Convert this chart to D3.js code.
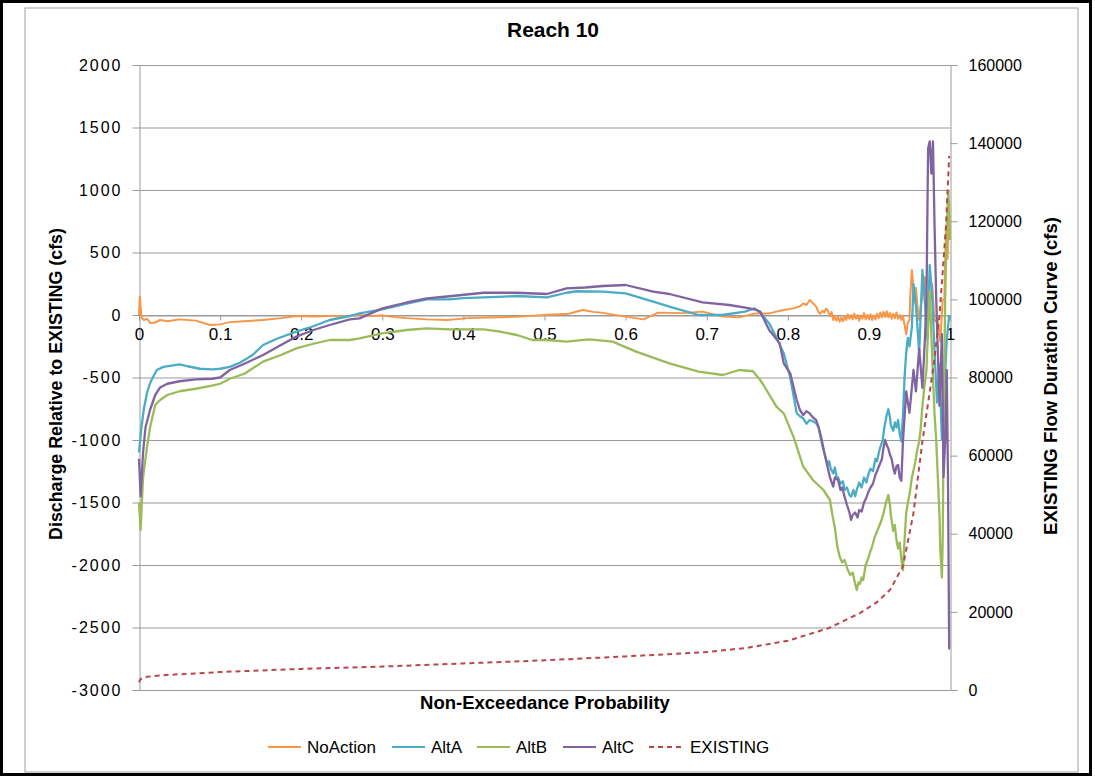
<!DOCTYPE html>
<html><head><meta charset="utf-8">
<script src="https://cdn.jsdelivr.net/npm/d3@7"></script>
<style>body{margin:0;background:#fff}svg{display:block;font-family:"Liberation Sans",Arial,sans-serif}</style>
</head><body><svg id="c" width="1095" height="777"></svg>
<script>
const title = "Reach 10";
const xTicks = [0,0.1,0.2,0.3,0.4,0.5,0.6,0.7,0.8,0.9,1];
const yLeftTicks = [-3000,-2500,-2000,-1500,-1000,-500,0,500,1000,1500,2000];
const yRightTicks = [0,20000,40000,60000,80000,100000,120000,140000,160000];
const seriesNames = ["NoAction","AltA","AltB","AltC","EXISTING"];
const seriesColors = ["#F79646","#4BACC6","#9BBB59","#8064A2","#B8474B"];

const noAction = [[0,0],[0.001,147],[0.003,-20],[0.006,-40],[0.01,-30],[0.014,-65],[0.02,-60],[0.026,-40],[0.035,-50],[0.05,-35],[0.07,-45],[0.0875,-80],[0.1,-75],[0.112,-57],[0.13,-50],[0.153,-40],[0.175,-25],[0.194,-8],[0.215,-12],[0.235,-8],[0.26,-5],[0.272,0],[0.29,-8],[0.3,-2],[0.31,-13],[0.33,-25],[0.355,-35],[0.38,-40],[0.405,-25],[0.43,-20],[0.47,-13],[0.5,0],[0.53,10],[0.547,40],[0.56,25],[0.57,19],[0.6,-13],[0.622,-35],[0.64,19],[0.67,15],[0.695,27],[0.72,-13],[0.74,-19],[0.76,13],[0.777,13],[0.786,27],[0.795,40],[0.807,53],[0.815,70],[0.819,93],[0.823,80],[0.827,120],[0.831,95],[0.835,67],[0.838,20],[0.84,10],[0.843,35],[0.845,20],[0.847,50],[0.849,40],[0.852,-10],[0.854,25],[0.856,-40],[0.858,-10],[0.86,-45],[0.862,-15],[0.864,-53],[0.866,-20],[0.868,-50],[0.87,-10],[0.872,-40],[0.874,5],[0.876,-30],[0.878,0],[0.88,-35],[0.882,10],[0.884,-30],[0.886,0],[0.888,-45],[0.89,-5],[0.892,-30],[0.894,15],[0.896,-35],[0.898,0],[0.9,-30],[0.902,5],[0.904,-40],[0.906,-5],[0.908,-35],[0.91,10],[0.912,-25],[0.914,20],[0.916,-20],[0.918,25],[0.92,-15],[0.922,30],[0.924,-20],[0.926,15],[0.928,-30],[0.93,10],[0.932,-25],[0.934,20],[0.936,-30],[0.938,0],[0.94,-40],[0.942,-10],[0.944,-80],[0.946,-154],[0.948,-60],[0.95,-40],[0.951,150],[0.953,360],[0.955,200],[0.956,100],[0.958,217],[0.96,60],[0.962,-40],[0.964,80],[0.966,150],[0.969,303],[0.972,50],[0.975,74],[0.978,250],[0.981,-50],[0.985,-40],[0.988,-211],[0.991,120],[0.993,131],[0.995,703],[0.997,450],[0.999,900],[1,600]];

const altA = [[0,-1100],[0.003,-900],[0.006,-750],[0.01,-620],[0.014,-540],[0.017,-500],[0.022,-440],[0.03,-415],[0.04,-405],[0.05,-395],[0.06,-410],[0.075,-430],[0.09,-435],[0.1,-430],[0.112,-415],[0.125,-380],[0.14,-320],[0.153,-240],[0.17,-190],[0.194,-133],[0.215,-90],[0.235,-40],[0.26,-8],[0.272,13],[0.3,45],[0.33,90],[0.355,125],[0.383,125],[0.4,135],[0.425,141],[0.466,152],[0.503,141],[0.527,178],[0.54,190],[0.572,187],[0.6,173],[0.634,107],[0.654,67],[0.69,0],[0.719,0],[0.747,27],[0.759,53],[0.766,20],[0.777,-67],[0.786,-180],[0.795,-307],[0.803,-500],[0.811,-787],[0.815,-810],[0.819,-827],[0.823,-870],[0.827,-840],[0.831,-850],[0.835,-867],[0.838,-900],[0.841,-1000],[0.844,-1080],[0.847,-1150],[0.849,-1200],[0.851,-1170],[0.853,-1230],[0.856,-1267],[0.858,-1220],[0.86,-1290],[0.862,-1300],[0.865,-1350],[0.868,-1330],[0.87,-1400],[0.873,-1380],[0.876,-1440],[0.878,-1453],[0.881,-1400],[0.883,-1450],[0.885,-1400],[0.888,-1340],[0.891,-1380],[0.894,-1300],[0.897,-1340],[0.899,-1280],[0.902,-1230],[0.905,-1250],[0.908,-1150],[0.91,-1170],[0.913,-1080],[0.917,-1000],[0.919,-900],[0.922,-800],[0.924,-754],[0.926,-820],[0.927,-880],[0.93,-926],[0.932,-860],[0.934,-900],[0.936,-840],[0.938,-950],[0.94,-1011],[0.942,-800],[0.944,-497],[0.946,-300],[0.948,-183],[0.95,-250],[0.953,-97],[0.955,246],[0.958,74],[0.962,-297],[0.966,360],[0.969,100],[0.972,-200],[0.975,400],[0.978,150],[0.981,-300],[0.984,-700],[0.987,-400],[0.99,-1000],[0.993,-600],[0.996,-200],[0.999,0]];

const altB = [[0,-1500],[0.002,-1720],[0.005,-1300],[0.01,-1050],[0.0136,-900],[0.02,-720],[0.026,-680],[0.035,-640],[0.05,-610],[0.07,-590],[0.09,-565],[0.1,-550],[0.112,-510],[0.13,-470],[0.153,-373],[0.175,-320],[0.194,-267],[0.215,-230],[0.235,-200],[0.26,-200],[0.272,-187],[0.3,-147],[0.33,-120],[0.355,-107],[0.383,-115],[0.425,-115],[0.445,-133],[0.466,-160],[0.485,-200],[0.503,-200],[0.527,-213],[0.555,-195],[0.584,-213],[0.613,-293],[0.654,-387],[0.69,-453],[0.72,-480],[0.74,-440],[0.757,-450],[0.766,-520],[0.77,-560],[0.786,-733],[0.795,-787],[0.807,-973],[0.819,-1213],[0.831,-1320],[0.844,-1400],[0.852,-1480],[0.855,-1600],[0.858,-1700],[0.861,-1850],[0.864,-1933],[0.867,-1980],[0.87,-1960],[0.874,-2040],[0.877,-2080],[0.88,-2060],[0.883,-2150],[0.885,-2200],[0.887,-2140],[0.889,-2150],[0.891,-2100],[0.893,-2120],[0.896,-2000],[0.899,-1950],[0.901,-1907],[0.904,-1850],[0.907,-1780],[0.909,-1747],[0.912,-1700],[0.915,-1650],[0.918,-1587],[0.921,-1500],[0.924,-1440],[0.926,-1520],[0.927,-1600],[0.93,-1726],[0.932,-1680],[0.934,-1800],[0.936,-1869],[0.938,-1820],[0.94,-1950],[0.942,-2040],[0.944,-1800],[0.946,-1583],[0.948,-1500],[0.95,-1440],[0.953,-1300],[0.957,-1183],[0.959,-1100],[0.962,-1011],[0.964,-900],[0.966,-726],[0.968,-600],[0.971,-440],[0.973,-100],[0.975,189],[0.977,-154],[0.979,-500],[0.981,-800],[0.983,-1000],[0.985,-1297],[0.987,-1600],[0.988,-1869],[0.99,-2100],[0.991,-1800],[0.992,-1011],[0.994,131],[0.996,703],[0.998,989],[1,600]];

const altC = [[0,-1150],[0.002,-1450],[0.005,-1100],[0.008,-900],[0.0136,-760],[0.02,-640],[0.026,-580],[0.035,-550],[0.05,-530],[0.07,-515],[0.09,-510],[0.1,-500],[0.112,-440],[0.13,-390],[0.153,-320],[0.175,-240],[0.194,-173],[0.215,-120],[0.235,-80],[0.26,-35],[0.272,-27],[0.3,53],[0.33,100],[0.355,133],[0.383,150],[0.425,178],[0.466,178],[0.503,168],[0.527,213],[0.55,220],[0.572,232],[0.6,240],[0.634,187],[0.654,168],[0.695,101],[0.728,80],[0.753,53],[0.761,40],[0.766,27],[0.777,-120],[0.79,-227],[0.795,-387],[0.803,-467],[0.811,-680],[0.815,-760],[0.819,-800],[0.823,-770],[0.827,-787],[0.831,-820],[0.835,-840],[0.838,-900],[0.841,-973],[0.845,-1100],[0.849,-1213],[0.852,-1300],[0.856,-1373],[0.858,-1300],[0.862,-1320],[0.865,-1400],[0.867,-1380],[0.87,-1453],[0.873,-1520],[0.876,-1580],[0.878,-1640],[0.88,-1600],[0.883,-1580],[0.886,-1620],[0.888,-1560],[0.891,-1573],[0.894,-1500],[0.897,-1460],[0.899,-1420],[0.902,-1380],[0.905,-1350],[0.908,-1280],[0.91,-1250],[0.913,-1200],[0.916,-1154],[0.918,-1060],[0.92,-1000],[0.922,-1040],[0.924,-1069],[0.926,-1120],[0.928,-1150],[0.93,-1220],[0.932,-1269],[0.934,-1210],[0.936,-1200],[0.938,-1300],[0.94,-1326],[0.942,-1011],[0.946,-611],[0.95,-783],[0.955,-440],[0.958,-611],[0.962,-269],[0.966,-583],[0.969,-200],[0.971,131],[0.973,1331],[0.975,1389],[0.977,1131],[0.979,1389],[0.981,703],[0.983,131],[0.985,-300],[0.987,-726],[0.99,-154],[0.992,-1297],[0.994,-1011],[0.996,-440],[0.9975,-1297],[0.999,-2668],[1,-2668]];

const existing = [[0,2000],[0.002,2800],[0.01,3400],[0.03,3800],[0.1,4600],[0.2,5400],[0.3,6000],[0.4,6800],[0.5,7600],[0.6,8600],[0.7,9700],[0.75,10800],[0.8,12600],[0.85,15800],[0.889,19700],[0.91,22500],[0.926,25600],[0.942,31700],[0.955,45300],[0.966,63700],[0.979,81900],[0.987,95700],[0.995,118500],[0.999,136700]];

const svg = d3.select("#c");
svg.append("rect").attr("width",1095).attr("height",777).attr("fill","#fff");
svg.append("rect").attr("x",1.5).attr("y",1.5).attr("width",1089).attr("height",773).attr("fill","none").attr("stroke","#000").attr("stroke-width",3);
svg.append("rect").attr("x",25).attr("y",8).attr("width",1053).attr("height",764).attr("fill","none").attr("stroke","#a0a0a0").attr("stroke-width",1);

const x = d3.scaleLinear().domain([0,1]).range([139,950]);
const yL = d3.scaleLinear().domain([-3000,2000]).range([690,65]);
const yR = d3.scaleLinear().domain([0,160000]).range([690,65]);
const gray = "#9a9a9a";
const plain = d => String(d);

// gridlines
svg.append("g").selectAll("line").data(yLeftTicks).join("line")
  .attr("x1",x(0)).attr("x2",x(1)).attr("y1",d=>yL(d)+0.5).attr("y2",d=>yL(d)+0.5)
  .attr("stroke",gray).attr("stroke-width",1.2);

// left axis
const gl = svg.append("g").attr("transform",`translate(${x(0)+0.5},0)`)
  .call(d3.axisLeft(yL).tickValues(yLeftTicks).tickSize(7).tickPadding(10).tickFormat(plain));
gl.select(".domain").attr("stroke",gray);
gl.selectAll(".tick line").attr("stroke",gray);
gl.selectAll("text").attr("font-size",16).attr("fill","#000").attr("letter-spacing",2).attr("font-family","Liberation Sans, Arial");

// right axis
const gr = svg.append("g").attr("transform",`translate(${x(1)+0.5},0)`)
  .call(d3.axisRight(yR).tickValues(yRightTicks).tickSize(7).tickPadding(11).tickFormat(plain));
gr.select(".domain").attr("stroke",gray);
gr.selectAll(".tick line").attr("stroke",gray);
gr.selectAll("text").attr("font-size",16).attr("fill","#000").attr("font-family","Liberation Sans, Arial");

// x axis at zero
const gx = svg.append("g").attr("transform",`translate(0,${yL(0)+0.5})`)
  .call(d3.axisBottom(x).tickValues(xTicks).tickSize(5).tickPadding(7).tickFormat(plain));
gx.select(".domain").attr("stroke",gray);
gx.selectAll(".tick line").attr("stroke",gray);
gx.selectAll("text").attr("font-size",17).attr("fill","#000").attr("font-family","Liberation Sans, Arial");

// lines
const lineL = d3.line().x(d=>x(d[0])).y(d=>yL(d[1]));
const lineR = d3.line().x(d=>x(d[0])).y(d=>yR(d[1]));
const leftSeries = [noAction, altA, altB, altC];
leftSeries.forEach((s,i)=>{
  svg.append("path").datum(s).attr("d",lineL).attr("fill","none")
    .attr("stroke",seriesColors[i]).attr("stroke-width",i===0?2:2.3).attr("stroke-linejoin","round");
});
svg.append("path").datum(existing).attr("d",lineR).attr("fill","none")
  .attr("stroke",seriesColors[4]).attr("stroke-width",2).attr("stroke-dasharray","5,4");

// titles
function fit(sel, w){
  const n = sel.node(); let fs = +sel.attr("font-size");
  const l = n.getComputedTextLength(); sel.attr("font-size", fs*w/l);
}
const t = svg.append("text").text(title).attr("x",553).attr("y",37).attr("text-anchor","middle")
  .attr("font-size",18).attr("font-weight","bold");
fit(t,92);
const xt = svg.append("text").text("Non-Exceedance Probability").attr("x",545).attr("y",709).attr("text-anchor","middle")
  .attr("font-size",15).attr("font-weight","bold");
fit(xt,250);
const ylt = svg.append("text").text("Discharge Relative to EXISTING (cfs)").attr("transform","translate(62,384) rotate(-90)")
  .attr("text-anchor","middle").attr("font-size",15).attr("font-weight","bold");
fit(ylt,312);
const yrt = svg.append("text").text("EXISTING Flow Duration Curve (cfs)").attr("transform","translate(1057,376) rotate(-90)")
  .attr("text-anchor","middle").attr("font-size",15).attr("font-weight","bold");
fit(yrt,318);

// legend
const legX = [268,392,477,563,649];
seriesNames.forEach((n,i)=>{
  const g = svg.append("g");
  g.append("line").attr("x1",legX[i]).attr("x2",legX[i]+33).attr("y1",747).attr("y2",747)
    .attr("stroke",seriesColors[i]).attr("stroke-width",2).attr("stroke-dasharray",i===4?"5,4":null);
  g.append("text").text(n).attr("x",legX[i]+(i===4?41:39)).attr("y",753).attr("font-size",17);
});
</script></body></html>
